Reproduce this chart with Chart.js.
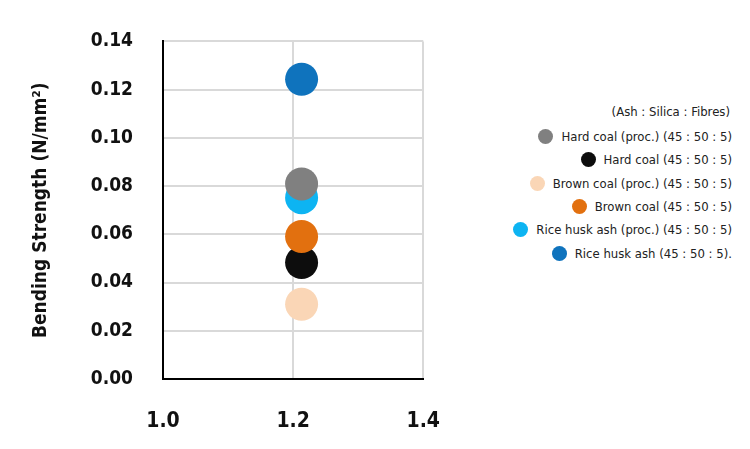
<!DOCTYPE html>
<html>
<head>
<meta charset="utf-8" />
<script src="https://cdn.jsdelivr.net/npm/chart.js"></script>
<style>
  body { margin: 0; background: #fff; font-family: "DejaVu Sans Condensed", "Liberation Sans", sans-serif; }
  .wrap { position: relative; width: 750px; height: 449px; }
  .chart-box { position: absolute; left: 0; top: 0; width: 470px; height: 449px; }
  .legend { position: absolute; right: 18px; top: 104px; width: 260px; font-size: 13px; color: #222; white-space: nowrap; }
  .legend .ttl { text-align: right; padding-right: 2px; margin-bottom: 6px; }
  .legend .row { display: flex; justify-content: flex-end; align-items: center; height: 23.3px; }
  .legend .dot { width: 15px; height: 15px; border-radius: 50%; margin-right: 8px; flex: none; }
</style>
</head>
<body>
<div class="wrap">
  <div class="chart-box"><canvas id="c"></canvas></div>
  <div class="legend" id="legend"><div class="ttl">(Ash : Silica : Fibres)</div></div>
</div>
<script>
const labels = ["Hard coal (proc.) (45 : 50 : 5)", "Hard coal (45 : 50 : 5)", "Brown coal (proc.) (45 : 50 : 5)",
  "Brown coal (45 : 50 : 5)", "Rice husk ash (proc.) (45 : 50 : 5)", "Rice husk ash (45 : 50 : 5)."];
const colors = ["#808080", "#0d0d0d", "#fad6b6", "#e2700f", "#0db4f2", "#0f73bd"];
const xValues = [1.213, 1.213, 1.213, 1.213, 1.213, 1.213];
const yValues = [0.0809, 0.0483, 0.031, 0.0591, 0.0752, 0.1243];
const xTicks = [1.0, 1.2, 1.4];
const drawOrder = [2, 0, 4, 3, 1, 5];

const legend = document.getElementById("legend");
labels.forEach((l, i) => {
  const r = document.createElement("div");
  r.className = "row";
  r.innerHTML = '<span class="dot" style="background:' + colors[i] + '"></span><span>' + l + "</span>";
  legend.appendChild(r);
});

const fam = "'DejaVu Sans Condensed', 'Liberation Sans', sans-serif";
new Chart(document.getElementById("c"), {
  type: "scatter",
  data: {
    datasets: drawOrder.map((i) => ({
      label: labels[i],
      data: [{ x: xValues[i], y: yValues[i] }],
      backgroundColor: colors[i],
      borderWidth: 0,
      pointRadius: 16.5,
    })),
  },
  options: {
    responsive: true,
    maintainAspectRatio: false,
    animation: false,
    layout: { padding: { top: 19, right: 3 } },
    plugins: { legend: { display: false }, tooltip: { enabled: false } },
    scales: {
      x: {
        min: 1.0, max: 1.4,
        afterBuildTicks: (s) => { s.ticks = xTicks.map((v) => ({ value: v })); },
        afterFit: (s) => { s.height = 70; },
        grid: { color: "#d9d9d9", lineWidth: 2, drawTicks: false },
        border: { color: "#000", width: 2 },
        ticks: { padding: 30, color: "#111", font: { family: fam, size: 21, weight: "bold" }, callback: (v) => v.toFixed(1) },
      },
      y: {
        min: 0, max: 0.14,
        afterFit: (s) => { s.width = 163; },
        grid: { color: "#d9d9d9", lineWidth: 2, drawTicks: false },
        border: { color: "#000", width: 2 },
        ticks: { stepSize: 0.02, padding: 30, color: "#111", font: { family: fam, size: 19, weight: "bold" }, callback: (v) => v.toFixed(2) },
        title: { display: true, text: "Bending Strength (N/mm²)", color: "#111", padding: { top: 30, bottom: 0 }, font: { family: fam, size: 19, weight: "bold" } },
      },
    },
  },
});
</script>
</body>
</html>
